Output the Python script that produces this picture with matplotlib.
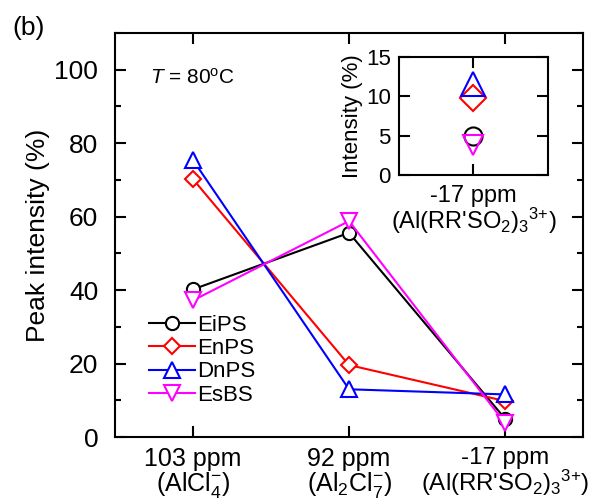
import numpy as np
import matplotlib
matplotlib.use('Agg')
import matplotlib.pyplot as plt
from matplotlib.ticker import MultipleLocator

# # 0. fonts
# ====================
plt.rcParams['font.family'] = ['Liberation Sans', 'DejaVu Sans']
plt.rcParams['mathtext.fontset'] = 'custom'
plt.rcParams['mathtext.rm'] = 'Liberation Sans'
plt.rcParams['mathtext.it'] = 'Liberation Sans:italic'
plt.rcParams['mathtext.bf'] = 'Liberation Sans:bold'

# # 1. data
# ====================
categories = [r'103 ppm' '\n' r'(AlCl$_4^{-}$)',
              r'92 ppm' '\n' r'(Al$_2$Cl$_7^{-}$)',
              r'-17 ppm' '\n' r"(Al(RR'SO$_2$)$_3$$^{3{+}}$)"]
inset_label = r'-17 ppm' '\n' r"(Al(RR'SO$_2$)$_3$$^{3{+}}$)"
eips = [40.2, 55.6, 5.0]
enps = [70.2, 19.6, 9.8]
dnps = [75.4, 13.0, 11.6]
esbs = [37.2, 58.8, 3.8]

series = [('EiPS', eips, 'black', 'o'),
          ('EnPS', enps, 'red', 'D'),
          ('DnPS', dnps, 'blue', '^'),
          ('EsBS', esbs, 'magenta', 'v')]
msize = {'o': 9.5, 'D': 8.5, '^': 11.5, 'v': 11}
msize_inset = {'o': 13, 'D': 13, '^': 17, 'v': 15}

# # 2. canvas
# ====================
fig = plt.figure(figsize=(6.0, 4.99), dpi=100)
ax = fig.add_axes([0.1917, 0.1242, 0.78, 0.8096])
x = np.arange(1, len(categories) + 1)

for name, vals, col, mk in series:
    ax.plot(x, vals, color=col, marker=mk, ms=msize[mk], mfc='white',
            mec=col, mew=1.5, lw=1.5, label=name)

ax.set_xlim(0.5, 3.5)
ax.set_ylim(0, 110)
ax.set_xticks(x)
ax.set_xticklabels(categories, fontsize=18, linespacing=0.95)
ax.get_xticklabels()[2].set_fontsize(17.3)
ax.yaxis.set_major_locator(MultipleLocator(20))
ax.yaxis.set_minor_locator(MultipleLocator(10))
ax.set_yticks([0, 20, 40, 60, 80, 100])
ax.tick_params(axis='y', which='major', direction='in', length=8, width=1.5,
               right=True, labelsize=19, pad=12)
ax.tick_params(axis='y', which='minor', direction='in', length=4.5, width=1.5,
               right=True)
ax.tick_params(axis='x', which='major', direction='in', length=8, width=1.5,
               top=True, pad=7)
for sp in ax.spines.values():
    sp.set_linewidth(1.5)
ax.set_ylabel('Peak intensity (%)', fontsize=19, labelpad=3)

ax.legend(loc='center left', bbox_to_anchor=(0.072, 0.19), frameon=False,
          fontsize=16, handlelength=2.1, handletextpad=0.1, labelspacing=0.1,
          borderpad=0, borderaxespad=0)

ax.text(0.075, 0.889, r'$T$ = 80$^{\rm o}$C', transform=ax.transAxes,
        fontsize=15, va='center', ha='left')
fig.text(0.02, 0.944, '(b)', fontsize=19, va='center', ha='left')

# # 3. inset
# ====================
ins = fig.add_axes([0.665, 0.6493, 0.248, 0.2365])
for name, vals, col, mk in series:
    ins.plot([1], [vals[2]], color=col, marker=mk, ms=msize_inset[mk],
             mfc='none', mec=col, mew=1.5, ls='none')
ins.set_xlim(0.5, 1.5)
ins.set_ylim(0, 15)
ins.set_xticks([1])
ins.set_xticklabels([inset_label], fontsize=17, linespacing=0.95)
ins.set_yticks([0, 5, 10, 15])
ins.tick_params(axis='y', direction='in', length=8, width=1.5, right=True,
                labelsize=16, pad=6)
ins.tick_params(axis='x', direction='in', length=8, width=1.5, top=True, pad=7)
for sp in ins.spines.values():
    sp.set_linewidth(1.5)
ins.set_ylabel('Intensity (%)', fontsize=16, labelpad=2)

fig.savefig('out.png', dpi=100)
